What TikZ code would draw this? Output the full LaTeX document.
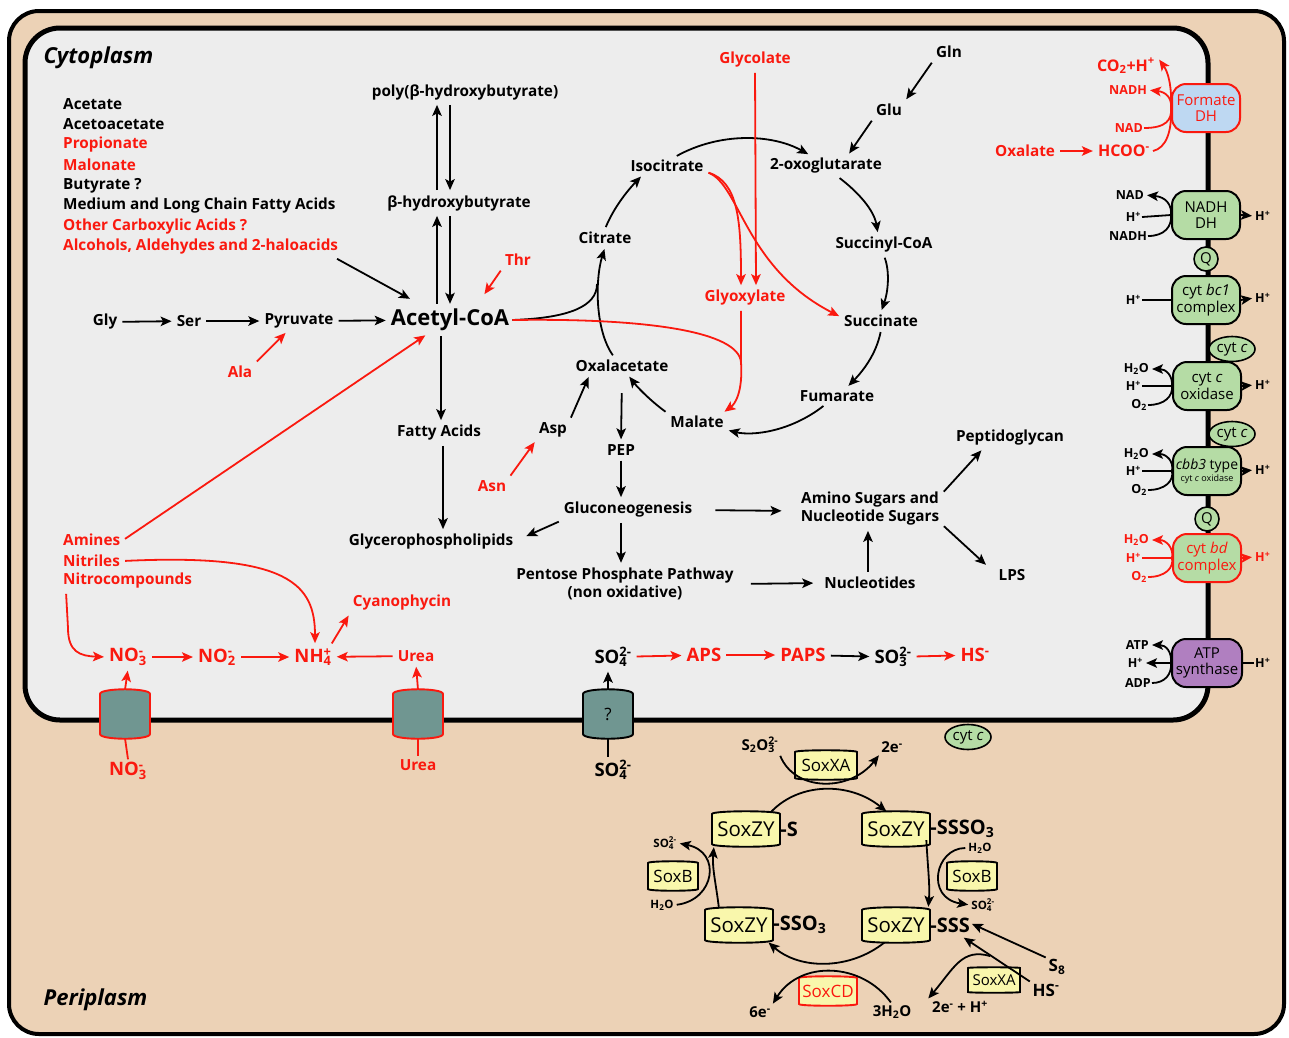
\documentclass[tikz,border=0pt]{standalone}
\usepackage{fontspec}
\setmainfont{Open Sans}
\usetikzlibrary{positioning, shapes.geometric, arrows.meta}

\definecolor{periplasm}{RGB}{236,210,182}
\definecolor{cytoplasm}{RGB}{237,237,237}
\definecolor{pathred}{RGB}{250,25,15}
\definecolor{cplxgreen}{RGB}{181,220,165}
\definecolor{fdhblue}{RGB}{190,216,242}
\definecolor{atppurple}{RGB}{176,127,192}
\definecolor{soxyellow}{RGB}{249,247,172}
\definecolor{porteal}{RGB}{112,150,145}

\newcommand{\subsup}[2]{\setbox0=\hbox{\textsubscript{#1}}\setbox2=\hbox{\textsuperscript{#2}}%
  \ifdim\wd0>\wd2 \rlap{\box2}\box0\else\rlap{\box0}\box2\fi}
\newcommand{\Hp}{H\textsuperscript{+}}
% barrel: centre, half width, half side height, bulge, line colour, fill
\newcommand{\barrel}[6]{%
  \begin{scope}[shift={(#1)}]
    \draw[line width=1.9pt, draw=#5, fill=#6, rounded corners=3pt]
      (-#2,-#3) .. controls (-#2,-#3-#4*1.33) and (#2,-#3-#4*1.33) .. (#2,-#3) -- (#2,#3)
      .. controls (#2,#3+#4*1.33) and (-#2,#3+#4*1.33) .. (-#2,#3) -- cycle;
  \end{scope}}

\tikzset{
  lbl/.style={font=\bfseries\fontsize{15.3}{18}\selectfont, inner sep=3pt, align=center},
  rlbl/.style={lbl, text=pathred},
  biglbl/.style={font=\bfseries\fontsize{22}{24}\selectfont, inner sep=3pt},
  ionlbl/.style={font=\bfseries\fontsize{18.5}{20}\selectfont, inner sep=3pt},
  mlbl/.style={font=\bfseries\fontsize{12.5}{13}\selectfont, inner sep=1pt},
  slbl/.style={font=\bfseries\fontsize{11.5}{12}\selectfont, inner sep=1pt},
  compart/.style={font=\bfseries\itshape\fontsize{22}{24}\selectfont, anchor=west},
  arr/.style={-{Stealth[length=11pt, width=9.5pt, inset=2.5pt]}, line width=1.8pt, shorten >=2pt, shorten <=2pt},
  rarr/.style={arr, draw=pathred},
  bline/.style={line width=1.8pt},
  rline/.style={line width=1.8pt, draw=pathred},
  portbox/.style={minimum width=50pt, minimum height=48pt, inner sep=0pt, font=\fontsize{17}{18}\selectfont},
  cplx/.style={draw, line width=2pt, rounded corners=14pt, fill=cplxgreen, minimum width=68pt,
    minimum height=48pt, align=center, inner sep=0pt, font=\fontsize{15}{16.5}\selectfont},
  cytc/.style={ellipse, draw, line width=1.6pt, fill=cplxgreen, minimum width=46pt,
    minimum height=25pt, inner sep=0pt, font=\fontsize{15}{16}\selectfont},
  quin/.style={circle, draw, line width=1.6pt, fill=cplxgreen, minimum size=24pt,
    inner sep=0pt, font=\fontsize{15}{16}\selectfont},
  sox/.style={minimum width=68pt, minimum height=32pt, inner sep=0pt, font=\fontsize{20.5}{21}\selectfont},
  soxsm/.style={minimum width=50pt, minimum height=28pt, inner sep=0pt, font=\fontsize{17}{18}\selectfont},
  soxtail/.style={font=\bfseries\fontsize{20}{21}\selectfont, anchor=west, inner sep=0pt},
  soxlbl/.style={font=\bfseries\fontsize{15}{16}\selectfont, inner sep=1pt}
}

\begin{document}
\begin{tikzpicture}[x=1pt, y=-1pt]
\useasboundingbox (0,0) rectangle (1289,1037);
\fill[white] (0,0) rectangle (1289,1037);

% compartments
\draw[line width=4pt, fill=periplasm, rounded corners=30pt] (9,11) rectangle (1284,1034);
\draw[line width=5pt, fill=cytoplasm, rounded corners=35pt] (25,28) rectangle (1208,720);
\node[compart] (cyto) at (40,58) {Cytoplasm};
\node[compart] (peri) at (40,1000) {Periplasm};

% carbon sources
\node[lbl, anchor=west] (acet) at (60,104) {Acetate};
\node[lbl, anchor=west] (acac) at (60,124) {Acetoacetate};
\node[rlbl, anchor=west] (prop) at (60,145) {Propionate};
\node[rlbl, anchor=west] (malo) at (60,165) {Malonate};
\node[lbl, anchor=west] (buty) at (60,186) {Butyrate ?};
\node[lbl, anchor=west] (mlcfa) at (60,206) {Medium and Long Chain Fatty Acids};
\node[rlbl, anchor=west] (ocarb) at (60,227) {Other Carboxylic Acids ?};
\node[rlbl, anchor=west] (alco) at (60,247) {Alcohols, Aldehydes and 2-haloacids};

\node[lbl] (phb) at (465,92) {poly(β-hydroxybutyrate)};
\node[lbl] (bhb) at (459,203) {β-hydroxybutyrate};
\node[biglbl] (acoa) at (450,320) {Acetyl-CoA};
\node[lbl] (gly) at (105,322) {Gly};
\node[lbl] (ser) at (189,321) {Ser};
\node[lbl] (pyr) at (299,321) {Pyruvate};
\node[rlbl] (thr) at (518,260) {Thr};
\node[rlbl] (ala) at (240,372) {Ala};

\draw[arr] ([xshift=-6pt]alco.south east) -- ([xshift=24pt,yshift=6pt]acoa.north west);
\draw[arr] ([xshift=-22pt]bhb.north) -- ([xshift=-28pt]phb.south);
\draw[arr] ([xshift=-15pt]phb.south) -- ([xshift=-9pt]bhb.north);
\draw[arr] ([xshift=-13pt]acoa.north) -- ([xshift=-22pt]bhb.south);
\draw[arr] ([xshift=-9pt]bhb.south) -- (acoa.north);
\draw[arr] (gly) -- (ser);
\draw[arr] (ser) -- (pyr);
\draw[arr] (pyr) -- (acoa);
\draw[rarr] (thr.south west) -- ([xshift=-29pt,yshift=10pt]acoa.north east);
\draw[rarr] (ala.north east) -- ([xshift=-12pt]pyr.south);

% TCA and glyoxylate cycle
\node[lbl] (isoc) at (667,166) {Isocitrate};
\node[lbl] (oxog) at (826,166) {2-oxoglutarate};
\node[lbl] (succoa) at (884,245) {Succinyl-CoA};
\node[lbl] (succ) at (881,321) {Succinate};
\node[lbl] (fum) at (837,396) {Fumarate};
\node[lbl] (mal) at (697,422) {Malate};
\node[lbl] (oaa) at (622,366) {Oxalacetate};
\node[lbl] (cit) at (605,238) {Citrate};
\node[rlbl] (glyox) at (745,298) {Glyoxylate};
\node[rlbl] (glycol) at (755,60) {Glycolate};
\node[lbl] (gln) at (949,52) {Gln};
\node[lbl] (glu) at (889,110) {Glu};

\draw[arr] (cit.north) .. controls (615,205) and (630,188) .. ([xshift=15pt]isoc.south west);
\draw[arr] ([xshift=8pt]isoc.north) .. controls (720,132) and (772,134) .. ([xshift=-16pt]oxog.north);
\draw[arr] ([xshift=12pt]oxog.south) .. controls (858,192) and (874,210) .. ([xshift=-6pt]succoa.north);
\draw[arr] (succoa.south) .. controls (890,272) and (888,292) .. (succ.north);
\draw[arr] (succ.south) .. controls (876,355) and (862,372) .. ([xshift=10pt]fum.north);
\draw[arr] ([xshift=-12pt]fum.south) .. controls (790,432) and (752,436) .. ([yshift=-8pt]mal.east);
\draw[arr] (mal.north west) .. controls (652,402) and (638,388) .. ([xshift=6pt]oaa.south);
\draw[arr] ([xshift=-8pt]oaa.north) .. controls (595,330) and (595,280) .. (cit.south);
\coordinate (joinc) at (597,284);
\draw[bline] (acoa.east) .. controls (570,318) and (597,306) .. (joinc);

\draw[rarr] ([yshift=-6pt]isoc.east) .. controls (738,182) and (741,220) .. ([xshift=-4pt]glyox.north);
\draw[rarr] ([yshift=-6pt]isoc.east) .. controls (740,185) and (745,268) .. ([yshift=4pt]succ.west);
\draw[rarr] (glycol.south) -- ([xshift=11pt]glyox.north);
\coordinate (mergec) at (741,362);
\draw[rline] (acoa.east) .. controls (650,318) and (738,332) .. (mergec);
\draw[rarr] ([xshift=-4pt]glyox.south) -- (mergec) .. controls (743,392) and (735,404) .. ([xshift=-4pt]mal.north east);
\draw[arr] (gln.south west) -- (glu.north east);
\draw[arr] (glu.south west) -- ([xshift=22pt]oxog.north);

% biosynthesis
\node[lbl] (fatty) at (439,433) {Fatty Acids};
\node[lbl] (glyc) at (431,542) {Glycerophospholipids};
\node[lbl] (asp) at (553,430) {Asp};
\node[rlbl] (asn) at (492,486) {Asn};
\node[lbl] (pep) at (621,450) {PEP};
\node[lbl] (glucon) at (628,510) {Gluconeogenesis};
\node[lbl] (ppp) at (625,584) {Pentose Phosphate Pathway\\(non oxidative)};
\node[lbl] (amino) at (870,509) {Amino Sugars and\\Nucleotide Sugars};
\node[lbl] (nucl) at (870,583) {Nucleotides};
\node[lbl] (pepg) at (1010,438) {Peptidoglycan};
\node[lbl] (lps) at (1012,575) {LPS};

\draw[arr] ([xshift=-9pt]acoa.south) -- ([xshift=2pt]fatty.north);
\draw[arr] ([xshift=4pt]fatty.south) -- ([xshift=12pt]glyc.north);
\draw[rarr] (asn.north east) -- (asp.south west);
\draw[arr] (asp.north east) -- ([xshift=17pt]oaa.south west);
\draw[arr, shorten <=18pt] (oaa.south) -- (pep.north);
\draw[arr] (pep.south) -- ([xshift=-7pt]glucon.north);
\draw[arr] (glucon.south west) -- ([xshift=8pt,yshift=5pt]glyc.east);
\draw[arr] ([xshift=-7pt]glucon.south) -- ([xshift=-4pt]ppp.north);
\draw[arr, shorten <=20pt, shorten >=16pt] (glucon.east) -- ([yshift=-2pt]amino.west);
\draw[arr, shorten <=14pt, shorten >=8pt] (ppp.east) -- (nucl.west);
\draw[arr] ([xshift=-2pt]nucl.north) -- ([xshift=-2pt]amino.south);
\draw[arr] ([yshift=-4pt]amino.north east) -- ([xshift=30pt]pepg.south west);
\draw[arr] ([yshift=4pt]amino.south east) -- ([xshift=-8pt]lps.north west);

% nitrogen
\node[rlbl, anchor=west] (amines) at (60,540) {Amines};
\node[rlbl, anchor=west] (nitril) at (60,561) {Nitriles};
\node[rlbl, anchor=west] (nitro) at (60,581) {Nitrocompounds};
\node[ionlbl, text=pathred] (no3) at (128,657) {NO\subsup{3}{-}};
\node[ionlbl, text=pathred] (no2) at (217,657) {NO\subsup{2}{-}};
\node[ionlbl, text=pathred] (nh4) at (313,657) {NH\subsup{4}{+}};
\node[rlbl] (urea) at (416,656) {Urea};
\node[rlbl] (cyano) at (402,603) {Cyanophycin};
\barrel{125,714}{25}{17}{7}{pathred}{porteal}
\node[portbox] (tno3) at (125,714) {};
\barrel{418,714}{25}{17}{7}{pathred}{porteal}
\node[portbox] (turea) at (418,714) {};
\node[ionlbl, text=pathred] (no3p) at (128,771) {NO\subsup{3}{-}};
\node[rlbl] (ureap) at (418,765) {Urea};

\draw[rarr] (amines.east) -- ([xshift=-23pt]acoa.south);
\draw[rarr] (nitril.east) .. controls (290,553) and (315,585) .. ([xshift=2pt]nh4.north);
\draw[rarr] ([xshift=6pt]nitro.south west) -- (68,628) .. controls (68,652) and (80,656) .. (no3.west);
\draw[rarr] (no3) -- (no2);
\draw[rarr] (no2) -- (nh4);
\draw[rarr] (urea) -- (nh4);
\draw[rarr] ([xshift=-4pt]nh4.north east) -- (cyano.south west);
\draw[rarr, shorten <=0pt] (tno3.north) -- (no3.south);
\draw[rline] (tno3.south) -- (no3p.north);
\draw[rarr, shorten <=0pt] (turea.north) -- (urea.south);
\draw[rline] (turea.south) -- (ureap.north);

% sulfur assimilation
\node[ionlbl] (so4) at (613,657) {SO\subsup{4}{2-}};
\node[ionlbl, text=pathred] (aps) at (704,655) {APS};
\node[ionlbl, text=pathred] (paps) at (803,655) {PAPS};
\node[ionlbl] (so3) at (893,657) {SO\subsup{3}{2-}};
\node[ionlbl, text=pathred] (hs) at (975,655) {HS\textsuperscript{-}};
\barrel{608,714}{25}{17}{7}{black}{porteal}
\node[portbox] (tso4) at (608,714) {?};
\node[ionlbl] (so4p) at (613,770) {SO\subsup{4}{2-}};

\draw[rarr] (so4) -- (aps);
\draw[rarr] (aps) -- (paps);
\draw[arr] (paps) -- (so3);
\draw[rarr] (so3) -- (hs);
\draw[arr, shorten <=0pt] (tso4.north) -- ([xshift=-5pt]so4.south);
\draw[bline] (tso4.south) -- ([xshift=-5pt]so4p.north);

% respiratory chain
\node[cplx, fill=fdhblue, draw=pathred, text=pathred] (fdh) at (1206,108) {Formate\\DH};
\node[rlbl, anchor=east, font=\bfseries\fontsize{16}{17}\selectfont] (co2) at (1158,66) {CO\textsubscript{2}+\Hp};
\node[mlbl, anchor=east, text=pathred] (nadh1) at (1148,90) {NADH};
\node[mlbl, anchor=east, text=pathred] (nad1) at (1144,128) {NAD};
\node[rlbl, anchor=east, font=\bfseries\fontsize{16}{17}\selectfont] (hcoo) at (1153,151) {HCOO\textsuperscript{-}};
\node[rlbl] (oxal) at (1025,151) {Oxalate};
\draw[rline] (nad1.east) .. controls (1166,128) and (1172,120) .. (fdh.west);
\draw[rline] (hcoo.east) .. controls (1166,148) and (1172,132) .. (fdh.west);
\draw[rarr, shorten <=0pt] (fdh.west) .. controls (1172,98) and (1166,92) .. (nadh1.east);
\draw[rarr, shorten <=0pt] (fdh.west) .. controls (1172,86) and (1168,72) .. ([yshift=-3pt]co2.north east);
\draw[rarr] (oxal) -- (hcoo);

\node[cplx] (ndh) at (1206,215) {NADH\\DH};
\node[mlbl, anchor=east] (nad2) at (1145,195) {NAD};
\node[mlbl, anchor=east] (hp1) at (1142,217) {\Hp};
\node[mlbl, anchor=east] (nadh2) at (1148,236) {NADH};
\node[mlbl, anchor=west] (hp2) at (1254,216) {\Hp};
\draw[bline] (hp1.east) -- (ndh.west);
\draw[bline] (nadh2.east) .. controls (1165,236) and (1172,226) .. (ndh.west);
\draw[arr, shorten <=0pt] (ndh.west) .. controls (1172,205) and (1166,197) .. (nad2.east);
\draw[arr, shorten <=0pt] (ndh.east) -- (hp2.west);

\node[quin] (q1) at (1206,259) {Q};

\node[cplx] (bc1) at (1206,300) {cyt \textit{bc1}\\complex};
\node[mlbl, anchor=east] (hp3) at (1142,300) {\Hp};
\node[mlbl, anchor=west] (hp4) at (1254,298) {\Hp};
\draw[bline] (hp3.east) -- (bc1.west);
\draw[arr, shorten <=0pt] (bc1.east) -- (hp4.west);

\node[cytc] (cytc1) at (1232,349) {cyt \textit{c}};

\node[cplx] (cco) at (1207,386) {cyt \textit{c}\\oxidase};
\node[mlbl, anchor=east] (h2o1) at (1150,369) {H\textsubscript{2}O};
\node[mlbl, anchor=east] (hp5) at (1142,386) {\Hp};
\node[mlbl, anchor=east] (o21) at (1148,405) {O\textsubscript{2}};
\node[mlbl, anchor=west] (hp6) at (1254,385) {\Hp};
\draw[bline] (hp5.east) -- (cco.west);
\draw[bline] (o21.east) .. controls (1165,405) and (1173,396) .. (cco.west);
\draw[arr, shorten <=0pt] (cco.west) .. controls (1173,376) and (1166,369) .. (h2o1.east);
\draw[arr, shorten <=0pt] (cco.east) -- (hp6.west);

\node[cytc] (cytc2) at (1232,434) {cyt \textit{c}};

\node[cplx, font=\fontsize{14}{14}\selectfont] (cbb) at (1207,471) {\textit{cbb3} type\\[-2pt]{\fontsize{9}{9}\selectfont cyt \textit{c} oxidase}};
\node[mlbl, anchor=east] (h2o2) at (1150,454) {H\textsubscript{2}O};
\node[mlbl, anchor=east] (hp7) at (1142,471) {\Hp};
\node[mlbl, anchor=east] (o22) at (1148,490) {O\textsubscript{2}};
\node[mlbl, anchor=west] (hp8) at (1254,470) {\Hp};
\draw[bline] (hp7.east) -- (cbb.west);
\draw[bline] (o22.east) .. controls (1165,490) and (1174,481) .. (cbb.west);
\draw[arr, shorten <=0pt] (cbb.west) .. controls (1174,461) and (1166,454) .. (h2o2.east);
\draw[arr, shorten <=0pt] (cbb.east) -- (hp8.west);

\node[quin] (q2) at (1207,519) {Q};

\node[cplx, draw=pathred, text=pathred] (cbd) at (1207,558) {cyt \textit{bd}\\complex};
\node[mlbl, anchor=east, text=pathred] (h2o3) at (1150,540) {H\textsubscript{2}O};
\node[mlbl, anchor=east, text=pathred] (hp9) at (1142,558) {\Hp};
\node[mlbl, anchor=east, text=pathred] (o23) at (1148,577) {O\textsubscript{2}};
\node[mlbl, anchor=west, text=pathred] (hp10) at (1254,557) {\Hp};
\draw[rline] (hp9.east) -- (cbd.west);
\draw[rline] (o23.east) .. controls (1165,577) and (1174,568) .. (cbd.west);
\draw[rarr, shorten <=0pt] (cbd.west) .. controls (1174,548) and (1166,540) .. (h2o3.east);
\draw[rarr, shorten <=0pt] (cbd.east) -- (hp10.west);

\node[cplx, fill=atppurple, minimum width=70pt] (atps) at (1207,663) {ATP\\synthase};
\node[mlbl, anchor=east] (atp) at (1150,645) {ATP};
\node[mlbl, anchor=east] (hp11) at (1144,663) {\Hp};
\node[mlbl, anchor=east] (adp) at (1152,683) {ADP};
\node[mlbl, anchor=west] (hp12) at (1254,663) {\Hp};
\draw[arr, shorten <=0pt] (atps.west) -- (hp11.east);
\draw[bline] (adp.east) .. controls (1165,683) and (1172,674) .. (atps.west);
\draw[arr, shorten <=0pt] (atps.west) .. controls (1172,652) and (1166,645) .. (atp.east);
\draw[bline] (atps.east) -- (hp12.west);

\node[cytc] (cytc3) at (968,737) {cyt \textit{c}};

% Sox system
\barrel{746,829}{34}{12}{5}{black}{soxyellow}
\node[sox] (szs) at (746,829) {SoxZY};
\node[soxtail] (szst) at (szs.east) {-S};
\barrel{896,829}{34}{12}{5}{black}{soxyellow}
\node[sox] (szsssoo) at (896,829) {SoxZY};
\node[soxtail] (szsssoot) at (szsssoo.east) {-SSSO\textsubscript{3}};
\barrel{739,925}{34}{12}{5}{black}{soxyellow}
\node[sox] (szssoo) at (739,925) {SoxZY};
\node[soxtail] (szssoot) at (szssoo.east) {-SSO\textsubscript{3}};
\barrel{896,925}{34}{12}{5}{black}{soxyellow}
\node[sox] (szsss) at (896,925) {SoxZY};
\node[soxtail] (szssst) at (szsss.east) {-SSS};

\barrel{826,765}{31}{10}{4}{black}{soxyellow}
\node[soxsm] (soxxa1) at (826,765) {SoxXA};
\barrel{673,876}{25}{10}{4}{black}{soxyellow}
\node[soxsm] (soxb1) at (673,876) {SoxB};
\barrel{972,876}{25}{10}{4}{black}{soxyellow}
\node[soxsm] (soxb2) at (972,876) {SoxB};
\barrel{828,991}{29}{10}{4}{pathred}{soxyellow}
\node[soxsm, text=pathred] (soxcd) at (828,991) {SoxCD};
\barrel{994,980}{26}{9}{3}{black}{soxyellow}
\node[soxsm, font=\fontsize{15}{16}\selectfont] (soxxa2) at (994,980) {SoxXA};

\node[soxlbl] (thios) at (760,745) {S\textsubscript{2}O\subsup{3}{2-}};
\node[soxlbl] (ea) at (892,747) {2e\textsuperscript{-}};
\node[slbl] (so4l) at (665,843) {SO\subsup{4}{2-}};
\node[slbl] (h2ol) at (662,905) {H\textsubscript{2}O};
\node[slbl] (h2or) at (980,848) {H\textsubscript{2}O};
\node[slbl] (so4r) at (983,905) {SO\subsup{4}{2-}};
\node[soxlbl] (esix) at (760,1012) {6e\textsuperscript{-}};
\node[soxlbl] (wat3) at (892,1012) {3H\textsubscript{2}O};
\node[soxlbl, font=\bfseries\fontsize{17}{18}\selectfont] (seight) at (1057,967) {S\textsubscript{8}};
\node[soxlbl, font=\bfseries\fontsize{17}{18}\selectfont] (hsp) at (1046,990) {HS\textsuperscript{-}};
\node[soxlbl] (eb) at (960,1007) {2e\textsuperscript{-} + \Hp};

\draw[arr] (thios.south east) .. controls (795,792) and (850,792) .. (ea.south west);
\draw[arr] ([xshift=-10pt]szs.north east) .. controls (800,782) and (850,782) .. ([xshift=-8pt]szsssoo.north);
\draw[arr] ([xshift=-4pt]szsssoot.south west) .. controls (928,870) and (930,886) .. ([xshift=-2pt]szsssoo.east |- szsss.north);
\draw[arr] (h2or.west) .. controls (935,848) and (925,898) .. (so4r.west);
\draw[arr] ([xshift=-20pt]szssoo.north) .. controls (716,884) and (712,868) .. ([xshift=-32pt]szs.south);
\draw[arr] (h2ol.east) .. controls (715,900) and (722,852) .. (so4l.east);
\draw[arr] ([xshift=-10pt]szsss.south) .. controls (850,970) and (800,970) .. ([xshift=28pt]szssoo.south);
\draw[arr] (wat3.north) .. controls (862,962) and (800,960) .. (esix.north east);
\draw[arr] (seight.north west) -- ([yshift=2pt]szssst.east);
\draw[arr] (hsp.north west) -- ([xshift=-8pt,yshift=-4pt]szssst.south east);
\coordinate (hsmid) at (990,956);
\draw[arr, shorten <=0pt] (hsmid) .. controls (962,948) and (954,968) .. ([xshift=-4pt]eb.north west);

\end{tikzpicture}
\end{document}
